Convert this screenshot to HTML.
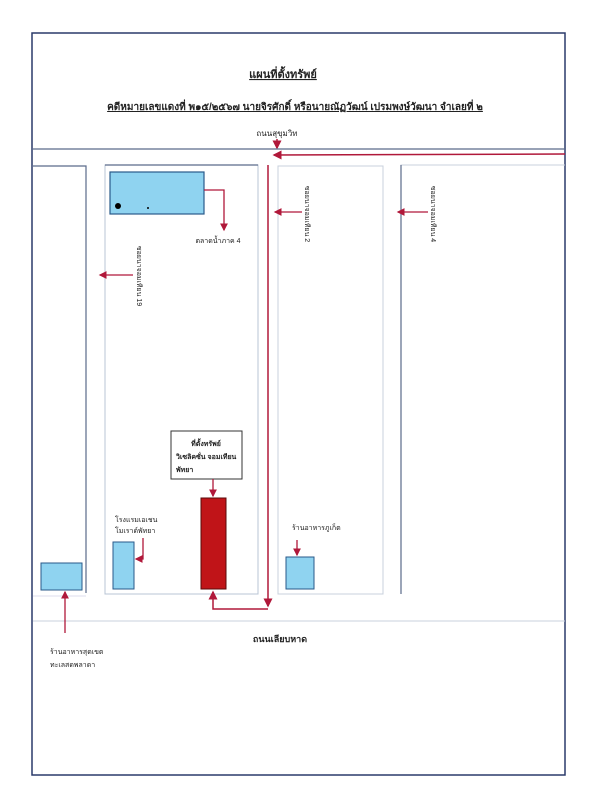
<!DOCTYPE html>
<html><head><meta charset="utf-8"><style>
html,body{margin:0;padding:0;background:#fff;}
svg{display:block;}
text{font-family:"Liberation Sans","Noto Sans CJK SC",sans-serif;fill:#222;}
</style></head><body>
<svg width="602" height="800" viewBox="0 0 602 800" xmlns="http://www.w3.org/2000/svg">
<defs>
<marker id="a" markerWidth="6" markerHeight="6" refX="5" refY="3" orient="auto"><path d="M0,0 L6,3 L0,6 z" fill="#b0183a"/></marker>
</defs>
<rect x="32" y="33" width="533" height="742" fill="none" stroke="#2a3a6a" stroke-width="1.5"/>
<text x="283" y="78" font-size="11" font-weight="bold" text-anchor="middle" text-decoration="underline">แผนที่ตั้งทรัพย์</text>
<text x="295" y="110" font-size="10" font-weight="bold" text-anchor="middle" text-decoration="underline">คดีหมายเลขแดงที่ พ๑๕/๒๕๖๗ นายจิรศักดิ์ หรือนายณัฏวัฒน์ เปรมพงษ์วัฒนา จำเลยที่ ๒</text>
<text x="277" y="136" font-size="8" text-anchor="middle">ถนนสุขุมวิท</text>
<line x1="277" y1="139" x2="277" y2="148" stroke="#b0183a" stroke-width="1.5" marker-end="url(#a)"/>
<line x1="32" y1="149" x2="565" y2="149" stroke="#5a6a8a" stroke-width="1.2"/>
<line x1="565" y1="154" x2="274" y2="155" stroke="#b0183a" stroke-width="1.5" marker-end="url(#a)"/>
<!-- blocks -->
<path d="M33,166 H86 V593" fill="none" stroke="#5a6a8a" stroke-width="1.2"/>
<rect x="105" y="165" width="153" height="429" fill="none" stroke="#b8c4d4" stroke-width="1"/>
<line x1="105" y1="165" x2="258" y2="165" stroke="#5a6a8a" stroke-width="1.2"/>
<rect x="278" y="166" width="105" height="428" fill="none" stroke="#c8d0dc" stroke-width="1"/>
<path d="M401,594 V165 H565" fill="none" stroke="#c8d0dc" stroke-width="1"/>
<line x1="401" y1="165" x2="401" y2="594" stroke="#5a6a8a" stroke-width="1.2"/>
<line x1="33" y1="621" x2="565" y2="621" stroke="#c8d0dc" stroke-width="1"/>
<line x1="33" y1="596" x2="86" y2="596" stroke="#dde" stroke-width="1"/>
<!-- red vertical -->
<line x1="268" y1="165" x2="268" y2="606" stroke="#b0183a" stroke-width="1.5" marker-end="url(#a)"/>
<polyline points="268,609 213,609 213,592" fill="none" stroke="#b0183a" stroke-width="1.5" marker-end="url(#a)"/>
<!-- blue top box -->
<rect x="110" y="172" width="94" height="42" fill="#8fd3f0" stroke="#2a5a8a" stroke-width="1.2"/>
<circle cx="118" cy="206" r="3" fill="#000"/>
<circle cx="148" cy="208" r="1" fill="#000"/>
<polyline points="204,190 224,190 224,230" fill="none" stroke="#b0183a" stroke-width="1.3" marker-end="url(#a)"/>
<text x="218" y="243" font-size="7" text-anchor="middle">ตลาดน้ำภาค 4</text>
<!-- vertical labels -->
<text transform="translate(137,276) rotate(90)" font-size="7" text-anchor="middle">ซอยนาจอมเทียน 19</text>
<line x1="133" y1="275" x2="100" y2="275" stroke="#b0183a" stroke-width="1.3" marker-end="url(#a)"/>
<text transform="translate(305,214) rotate(90)" font-size="7" text-anchor="middle">ซอยนาจอมเทียน 2</text>
<line x1="302" y1="212" x2="275" y2="212" stroke="#b0183a" stroke-width="1.3" marker-end="url(#a)"/>
<text transform="translate(431,214) rotate(90)" font-size="7" text-anchor="middle">ซอยนาจอมเทียน 4</text>
<line x1="428" y1="212" x2="398" y2="212" stroke="#b0183a" stroke-width="1.3" marker-end="url(#a)"/>
<!-- property box -->
<rect x="171" y="431" width="71" height="48" fill="#fff" stroke="#333" stroke-width="1"/>
<text x="206" y="446" font-size="7" font-weight="bold" text-anchor="middle">ที่ตั้งทรัพย์</text>
<text x="176" y="459" font-size="7" font-weight="bold">วิเซลิคซั่น จอมเทียน</text>
<text x="176" y="472" font-size="7" font-weight="bold">พัทยา</text>
<line x1="213" y1="479" x2="213" y2="496" stroke="#b0183a" stroke-width="1.3" marker-end="url(#a)"/>
<rect x="201" y="498" width="25" height="91" fill="#c01418" stroke="#5a0a0a" stroke-width="1"/>
<!-- blue small boxes -->
<text x="115" y="522" font-size="7">โรงแรมเอเชน</text>
<text x="115" y="533" font-size="7">โมเราด์พัทยา</text>
<rect x="113" y="542" width="21" height="47" fill="#8fd3f0" stroke="#2a5a8a" stroke-width="1"/>
<polyline points="143,538 143,559 136,559" fill="none" stroke="#b0183a" stroke-width="1.3" marker-end="url(#a)"/>
<text x="292" y="530" font-size="7">ร้านอาหารภูเก็ต</text>
<line x1="297" y1="540" x2="297" y2="555" stroke="#b0183a" stroke-width="1.3" marker-end="url(#a)"/>
<rect x="286" y="557" width="28" height="32" fill="#8fd3f0" stroke="#2a5a8a" stroke-width="1"/>
<rect x="41" y="563" width="41" height="27" fill="#8fd3f0" stroke="#2a5a8a" stroke-width="1"/>
<line x1="65" y1="633" x2="65" y2="592" stroke="#b0183a" stroke-width="1.3" marker-end="url(#a)"/>
<text x="50" y="654" font-size="7">ร้านอาหารสุดเขต</text>
<text x="50" y="667" font-size="7">ทะเลสดพลาดา</text>
<text x="280" y="642" font-size="9" font-weight="bold" text-anchor="middle">ถนนเลียบหาด</text>
</svg>
</body></html>
